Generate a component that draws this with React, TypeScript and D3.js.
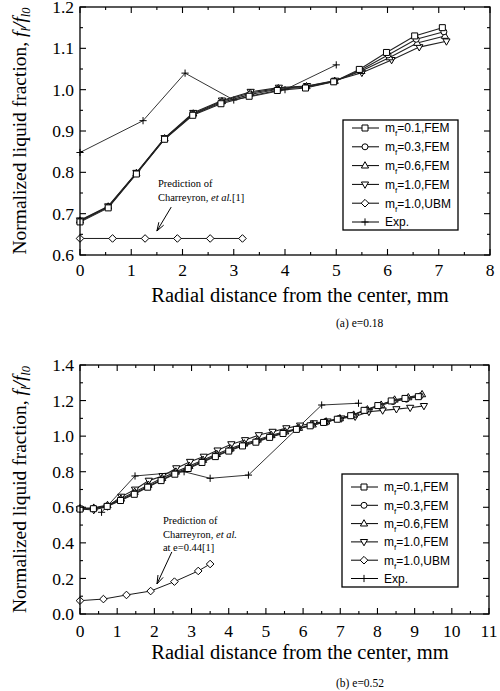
import React from 'react';
import * as d3 from 'd3';

// ---------------- Panel (a) e=0.18 ----------------
const aTicksX = [0, 1, 2, 3, 4, 5, 6, 7, 8];
const aTicksY = [0.6, 0.7, 0.8, 0.9, 1.0, 1.1, 1.2];

const aM01X = [0, 0.55, 1.1, 1.65, 2.2, 2.75, 3.3, 3.85, 4.4, 4.95, 5.45, 5.98, 6.53, 7.07];
const aM01Y = [0.680, 0.714, 0.796, 0.880, 0.938, 0.966, 0.984, 0.998, 1.004, 1.019, 1.049, 1.090, 1.130, 1.150];
const aM03X = [0, 0.55, 1.1, 1.65, 2.2, 2.76, 3.31, 3.86, 4.41, 4.96, 5.47, 6.01, 6.56, 7.1];
const aM03Y = [0.682, 0.716, 0.797, 0.881, 0.940, 0.969, 0.988, 1.001, 1.006, 1.020, 1.047, 1.084, 1.122, 1.140];
const aM06X = [0, 0.55, 1.1, 1.65, 2.21, 2.77, 3.32, 3.87, 4.42, 4.97, 5.49, 6.04, 6.58, 7.12];
const aM06Y = [0.683, 0.717, 0.798, 0.882, 0.942, 0.972, 0.992, 1.003, 1.008, 1.021, 1.045, 1.078, 1.113, 1.130];
const aM10X = [0, 0.55, 1.1, 1.65, 2.21, 2.77, 3.33, 3.88, 4.43, 4.98, 5.5, 6.08, 6.62, 7.15];
const aM10Y = [0.684, 0.718, 0.799, 0.883, 0.944, 0.974, 0.995, 1.005, 1.009, 1.022, 1.041, 1.072, 1.103, 1.117];
const aUbmX = [0, 0.635, 1.27, 1.9, 2.54, 3.17];
const aUbmY = [0.64, 0.64, 0.64, 0.64, 0.64, 0.64];
const aExpX = [0, 1.23, 2.05, 3.0, 4.0, 5.0];
const aExpY = [0.848, 0.925, 1.04, 0.975, 1.0, 1.06];

// ---------------- Panel (b) e=0.52 ----------------
const bTicksX = [0, 1, 2, 3, 4, 5, 6, 7, 8, 9, 10, 11];
const bTicksY = [0.0, 0.2, 0.4, 0.6, 0.8, 1.0, 1.2, 1.4];

const bM01X = [0, 0.36, 0.73, 1.09, 1.46, 1.82, 2.18, 2.55, 2.91, 3.28, 3.64, 4.0, 4.37, 4.73, 5.1, 5.46, 5.82, 6.19, 6.55, 6.92, 7.28, 7.64, 8.01, 8.37, 8.74, 9.1];
const bM01Y = [0.590, 0.592, 0.605, 0.638, 0.673, 0.713, 0.750, 0.786, 0.818, 0.852, 0.885, 0.916, 0.945, 0.966, 0.993, 1.015, 1.038, 1.058, 1.077, 1.095, 1.115, 1.145, 1.172, 1.198, 1.212, 1.222];
const bM03X = [0, 0.37, 0.73, 1.1, 1.46, 1.83, 2.2, 2.56, 2.93, 3.29, 3.66, 4.03, 4.39, 4.76, 5.12, 5.49, 5.86, 6.22, 6.59, 6.95, 7.32, 7.69, 8.05, 8.42, 8.78, 9.15];
const bM03Y = [0.592, 0.594, 0.608, 0.642, 0.678, 0.718, 0.755, 0.792, 0.824, 0.858, 0.891, 0.922, 0.950, 0.972, 0.998, 1.020, 1.042, 1.062, 1.080, 1.098, 1.117, 1.146, 1.170, 1.195, 1.208, 1.226];
const bM06X = [0, 0.37, 0.74, 1.1, 1.47, 1.84, 2.21, 2.58, 2.94, 3.31, 3.68, 4.05, 4.42, 4.78, 5.15, 5.52, 5.89, 6.26, 6.62, 6.99, 7.36, 7.73, 8.1, 8.46, 8.83, 9.2];
const bM06Y = [0.594, 0.597, 0.612, 0.648, 0.686, 0.726, 0.764, 0.800, 0.832, 0.866, 0.899, 0.930, 0.958, 0.980, 1.005, 1.026, 1.046, 1.065, 1.082, 1.100, 1.120, 1.150, 1.176, 1.205, 1.218, 1.235];
const bM10X = [0, 0.37, 0.74, 1.11, 1.48, 1.85, 2.22, 2.59, 2.96, 3.33, 3.7, 4.07, 4.44, 4.81, 5.18, 5.55, 5.92, 6.29, 6.66, 7.03, 7.4, 7.77, 8.14, 8.51, 8.88, 9.25];
const bM10Y = [0.590, 0.585, 0.605, 0.660, 0.700, 0.750, 0.776, 0.820, 0.856, 0.885, 0.920, 0.955, 0.978, 1.006, 1.025, 1.045, 1.060, 1.073, 1.083, 1.100, 1.110, 1.137, 1.145, 1.152, 1.160, 1.170];
const bUbmX = [0, 0.63, 1.25, 1.9, 2.54, 3.18, 3.5];
const bUbmY = [0.075, 0.084, 0.107, 0.129, 0.182, 0.242, 0.281];
const bExpX = [0.58, 1.48, 2.8, 3.5, 4.53, 6.5, 7.49];
const bExpY = [0.572, 0.776, 0.80, 0.763, 0.781, 1.175, 1.185];

// ---------------- Legend ----------------
const legendMf = ['0.1', '0.3', '0.6', '1.0', '1.0'];
const legendMethod = ['FEM', 'FEM', 'FEM', 'FEM', 'UBM'];
const legendExp = 'Exp.';

type Shape = 'square' | 'circle' | 'tri' | 'triDown' | 'diamond' | 'plus';
const legendShapes: Shape[] = ['square', 'circle', 'tri', 'triDown', 'diamond', 'plus'];

const SERIF = '"Liberation Serif", "Times New Roman", serif';
const SANS = '"Liberation Sans", Arial, sans-serif';

function markerPath(shape: Shape): string {
  switch (shape) {
    case 'square': return 'M-3,-3H3V3H-3Z';
    case 'circle': return 'M3,0A3,3 0 1,1 -3,0A3,3 0 1,1 3,0Z';
    case 'tri': return 'M0,-3.9L3.6,2.4L-3.6,2.4Z';
    case 'triDown': return 'M0,3.9L3.6,-2.4L-3.6,-2.4Z';
    case 'diamond': return 'M0,-3.8L3.8,0L0,3.8L-3.8,0Z';
    case 'plus': return 'M-3.6,0H3.6M0,-3.6V3.6';
  }
}

function Marker({ shape, cx, cy }: { shape: Shape; cx: number; cy: number }) {
  return (
    <path
      d={markerPath(shape)}
      transform={`translate(${cx},${cy})`}
      fill={shape === 'plus' ? 'none' : '#fff'}
      stroke="#000"
      strokeWidth={1}
    />
  );
}

type Series = { xs: number[]; ys: number[]; shape: Shape; width: number; color: string };

type PanelCfg = {
  left: number; right: number; top: number; bottom: number;
  xDomain: [number, number]; yDomain: [number, number];
  xTicks: number[]; yTicks: number[];
  xMinorStep: number; yMinorStep: number;
  xLabelDy: number; titleY: number; caption: string; captionX: number; captionY: number;
  series: Series[];
  legend: { x0: number; y0: number; x1: number; y1: number; rowY0: number; rowStep: number };
  note: string[]; noteX: number; noteY: number[]; arrowFrom: [number, number]; arrowTo: [number, number];
};

function Panel({ p }: { p: PanelCfg }) {
  const x = d3.scaleLinear().domain(p.xDomain).range([p.left, p.right]);
  const y = d3.scaleLinear().domain(p.yDomain).range([p.bottom, p.top]);
  const line = d3.line<number>();
  const xMinor = d3.range(p.xDomain[0], p.xDomain[1] + 1e-9, p.xMinorStep);
  const yMinor = d3.range(p.yDomain[0], p.yDomain[1] + 1e-9, p.yMinorStep);
  const isMajorX = (v: number) => p.xTicks.some(t => Math.abs(t - v) < 1e-6);
  const isMajorY = (v: number) => p.yTicks.some(t => Math.abs(t - v) < 1e-6);
  const cy = (p.top + p.bottom) / 2;

  const ax = x(p.arrowFrom[0]), ay = y(p.arrowFrom[1]);
  const bx = x(p.arrowTo[0]), by = y(p.arrowTo[1]);
  const ang = Math.atan2(by - ay, bx - ax);
  const hl = 9, hw = 0.32;
  const h1 = [bx - hl * Math.cos(ang - hw), by - hl * Math.sin(ang - hw)];
  const h2 = [bx - hl * Math.cos(ang + hw), by - hl * Math.sin(ang + hw)];

  const L = p.legend;
  return (
    <g>
      {/* series */}
      {p.series.map((s, i) => {
        const pts = s.xs.map((v, j) => [x(v), y(s.ys[j])] as [number, number]);
        return (
          <g key={i}>
            <path d={d3.line()(pts) || ''} fill="none" stroke={s.color} strokeWidth={s.width} />
            {pts.map((pt, j) => <Marker key={j} shape={s.shape} cx={pt[0]} cy={pt[1]} />)}
          </g>
        );
      })}
      {/* frame */}
      <rect x={p.left} y={p.top} width={p.right - p.left} height={p.bottom - p.top} fill="none" stroke="#000" strokeWidth={1.3} />
      {/* x ticks */}
      {xMinor.map((v, i) => {
        const len = isMajorX(v) ? 6 : 3;
        return (
          <g key={'xt' + i}>
            <line x1={x(v)} x2={x(v)} y1={p.bottom} y2={p.bottom - len} stroke="#000" strokeWidth={1.1} />
            <line x1={x(v)} x2={x(v)} y1={p.top} y2={p.top + len} stroke="#000" strokeWidth={1.1} />
          </g>
        );
      })}
      {yMinor.map((v, i) => {
        const len = isMajorY(v) ? 6 : 3;
        return (
          <g key={'yt' + i}>
            <line x1={p.left} x2={p.left + len} y1={y(v)} y2={y(v)} stroke="#000" strokeWidth={1.1} />
            <line x1={p.right} x2={p.right - len} y1={y(v)} y2={y(v)} stroke="#000" strokeWidth={1.1} />
          </g>
        );
      })}
      {/* tick labels */}
      {p.xTicks.map((v, i) => (
        <text key={'xl' + i} x={x(v)} y={p.bottom + p.xLabelDy} textAnchor="middle" fontFamily={SERIF} fontSize={17.5}>{v}</text>
      ))}
      {p.yTicks.map((v, i) => (
        <text key={'yl' + i} x={p.left - 6} y={y(v)} dy="0.35em" textAnchor="end" fontFamily={SERIF} fontSize={17.5}>{v.toFixed(1)}</text>
      ))}
      {/* axis titles */}
      <text x={300} y={p.titleY} textAnchor="middle" fontFamily={SERIF} fontSize={20.5}>Radial distance from the center, mm</text>
      <text transform={`translate(26,${cy}) rotate(-90)`} textAnchor="middle" fontFamily={SERIF} fontSize={19.5}>
        Normalized liquid fraction, <tspan fontStyle="italic">f</tspan>
        <tspan fontSize={12.5} dy={4} fontStyle="italic">l</tspan>
        <tspan dy={-4} fontStyle="italic">/f</tspan>
        <tspan fontSize={12.5} dy={4} fontStyle="italic">l0</tspan>
      </text>
      <text x={p.captionX} y={p.captionY} fontFamily={SERIF} fontSize={11.5}>{p.caption}</text>
      {/* annotation */}
      {p.note.map((t, i) => (
        <text key={'n' + i} x={x(p.noteX)} y={y(p.noteY[i])} dy="0.35em" fontFamily={SERIF} fontSize={10.5}>
          {t.includes('et al.') ? (
            <>
              {t.split('et al.')[0]}<tspan fontStyle="italic">et al.</tspan>{t.split('et al.')[1]}
            </>
          ) : t}
        </text>
      ))}
      <line x1={ax} y1={ay} x2={bx} y2={by} stroke="#000" strokeWidth={1} />
      <path d={`M${h1[0]},${h1[1]}L${bx},${by}L${h2[0]},${h2[1]}`} fill="none" stroke="#000" strokeWidth={1} />
      {/* legend */}
      <rect x={L.x0} y={L.y0} width={L.x1 - L.x0} height={L.y1 - L.y0} fill="#fff" stroke="#000" strokeWidth={1.3} />
      {legendShapes.map((s, i) => {
        const ry = L.rowY0 + i * L.rowStep;
        return (
          <g key={'lg' + i}>
            <line x1={L.x0 + 9} x2={L.x0 + 36} y1={ry} y2={ry} stroke="#000" strokeWidth={1} />
            <Marker shape={s} cx={L.x0 + 22} cy={ry} />
            <text x={L.x0 + 42} y={ry} dy="0.36em" fontFamily={SANS} fontSize={12}>
              {i < 5 ? (
                <>m<tspan fontSize={8} dy={4}>f</tspan><tspan dy={-4}>{'=' + legendMf[i] + ',' + legendMethod[i]}</tspan></>
              ) : legendExp}
            </text>
          </g>
        );
      })}
    </g>
  );
}

const FEM_W = 1.1;

const panelA: PanelCfg = {
  left: 80, right: 490, top: 7, bottom: 255,
  xDomain: [0, 8], yDomain: [0.6, 1.2],
  xTicks: aTicksX, yTicks: aTicksY, xMinorStep: 0.5, yMinorStep: 0.05,
  xLabelDy: 21, titleY: 302, caption: '(a) e=0.18', captionX: 336, captionY: 327,
  series: [
    { xs: aUbmX, ys: aUbmY, shape: 'diamond', width: 0.9, color: '#000' },
    { xs: aExpX, ys: aExpY, shape: 'plus', width: 0.8, color: '#000' },
    { xs: aM10X, ys: aM10Y, shape: 'triDown', width: FEM_W, color: '#222' },
    { xs: aM06X, ys: aM06Y, shape: 'tri', width: FEM_W, color: '#222' },
    { xs: aM03X, ys: aM03Y, shape: 'circle', width: FEM_W, color: '#222' },
    { xs: aM01X, ys: aM01Y, shape: 'square', width: FEM_W, color: '#222' },
  ],
  legend: { x0: 343, y0: 120, x1: 458, y1: 230, rowY0: 128, rowStep: 18.8 },
  note: ['Prediction of', 'Charreyron, et al.[1]'], noteX: 1.52, noteY: [0.774, 0.740],
  arrowFrom: [1.78, 0.716], arrowTo: [1.5, 0.658],
};

const panelB: PanelCfg = {
  left: 80, right: 489, top: 365, bottom: 614,
  xDomain: [0, 11], yDomain: [0, 1.4],
  xTicks: bTicksX, yTicks: bTicksY, xMinorStep: 0.5, yMinorStep: 0.1,
  xLabelDy: 23, titleY: 659, caption: '(b) e=0.52', captionX: 336, captionY: 687,
  series: [
    { xs: bUbmX, ys: bUbmY, shape: 'diamond', width: 0.9, color: '#000' },
    { xs: bExpX, ys: bExpY, shape: 'plus', width: 0.8, color: '#000' },
    { xs: bM10X, ys: bM10Y, shape: 'triDown', width: FEM_W, color: '#222' },
    { xs: bM06X, ys: bM06Y, shape: 'tri', width: FEM_W, color: '#222' },
    { xs: bM03X, ys: bM03Y, shape: 'circle', width: FEM_W, color: '#222' },
    { xs: bM01X, ys: bM01Y, shape: 'square', width: FEM_W, color: '#222' },
  ],
  legend: { x0: 342, y0: 474, x1: 458, y1: 587, rowY0: 487, rowStep: 18.3 },
  note: ['Prediction of', 'Charreyron, et al.', 'at e=0.44[1]'], noteX: 2.23, noteY: [0.528, 0.45, 0.377],
  arrowFrom: [2.47, 0.349], arrowTo: [2.07, 0.169],
};

export default function App() {
  return (
    <svg
      width={500}
      height={691}
      viewBox="0 0 500 691"
      style={{ position: 'absolute', left: 0, top: 0, background: '#fff' }}
    >
      <rect width={500} height={691} fill="#fff" />
      <Panel p={panelA} />
      <Panel p={panelB} />
    </svg>
  );
}
